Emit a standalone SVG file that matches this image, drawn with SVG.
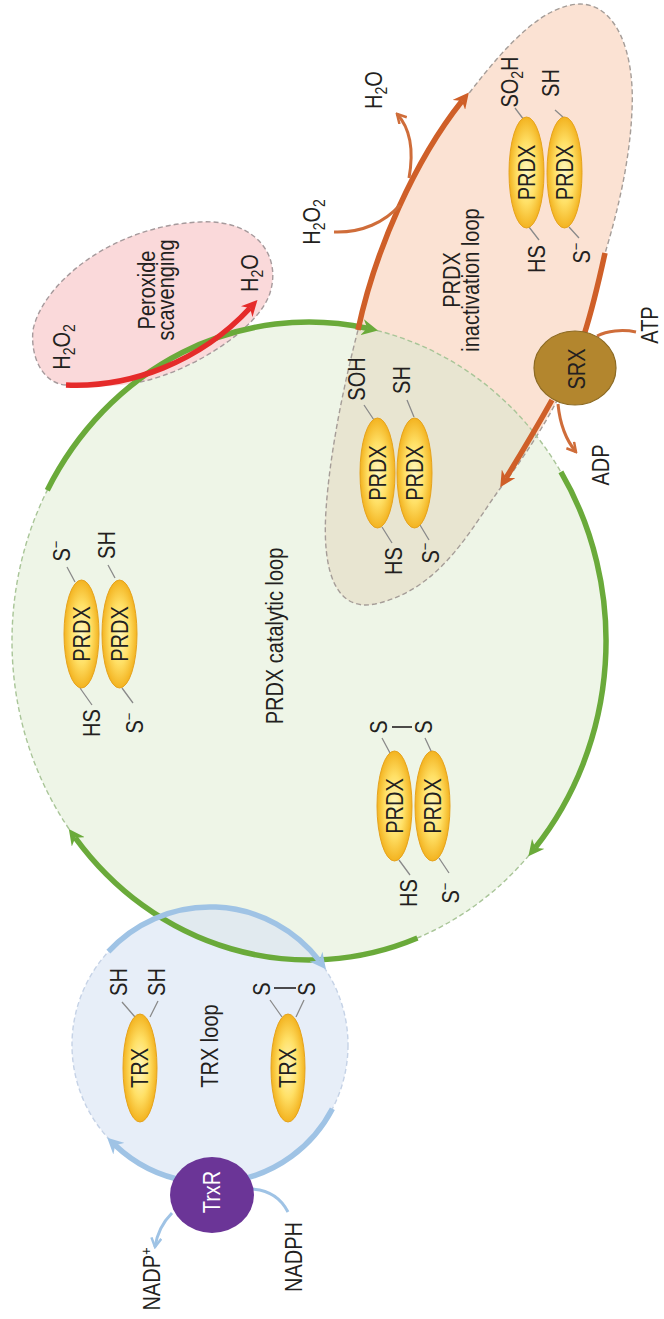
<svg xmlns="http://www.w3.org/2000/svg" width="664" height="1319" viewBox="0 0 664 1319">
<style>
.t{font-family:"Liberation Sans",Arial,sans-serif;font-size:20px;fill:#231f20;text-anchor:middle}
.w{fill:#ffffff}
.sub{font-size:14px}
.sup{font-size:13px}
.stem{stroke:#8a8a8a;stroke-width:1.3;fill:none}
.mol{fill:url(#yel);stroke:#e5a31e;stroke-width:1}
.dash{fill:none;stroke-dasharray:5 3;stroke-width:1.4}
.thick{fill:none;stroke-width:5.5}
.thin{fill:none;stroke-width:3}
</style>
<defs>
<radialGradient id="yel" cx="50%" cy="50%" r="50%">
<stop offset="0" stop-color="#fff8c0"/>
<stop offset="0.55" stop-color="#ffe066"/>
<stop offset="1" stop-color="#f3b320"/>
</radialGradient>
<clipPath id="catClip"><ellipse cx="309" cy="641" rx="297" ry="319"/></clipPath>
<marker id="ahG" markerUnits="userSpaceOnUse" markerWidth="16" markerHeight="16" viewBox="0 0 16 16" refX="5" refY="8" orient="auto"><path d="M0,0 L16,8 L0,16 L5,8 Z" fill="#6aaa3a"/></marker>
<marker id="ahB" markerUnits="userSpaceOnUse" markerWidth="16" markerHeight="16" viewBox="0 0 16 16" refX="5" refY="8" orient="auto"><path d="M0,0 L16,8 L0,16 L5,8 Z" fill="#9fc3e5"/></marker>
<marker id="ahR" markerUnits="userSpaceOnUse" markerWidth="16" markerHeight="16" viewBox="0 0 16 16" refX="5" refY="8" orient="auto"><path d="M0,0 L16,8 L0,16 L5,8 Z" fill="#e52b2a"/></marker>
<marker id="ahO" markerUnits="userSpaceOnUse" markerWidth="16" markerHeight="16" viewBox="0 0 16 16" refX="5" refY="8" orient="auto"><path d="M0,0 L16,8 L0,16 L5,8 Z" fill="#cf5f28"/></marker>
<marker id="chO" markerUnits="userSpaceOnUse" markerWidth="12" markerHeight="12" viewBox="0 0 12 12" refX="10" refY="6" orient="auto"><path d="M1,1 L10,6 L1,11" fill="none" stroke="#cf6d3a" stroke-width="2.5"/></marker>
<marker id="chB" markerUnits="userSpaceOnUse" markerWidth="12" markerHeight="12" viewBox="0 0 12 12" refX="10" refY="6" orient="auto"><path d="M1,1 L10,6 L1,11" fill="none" stroke="#9fc3e5" stroke-width="2.5"/></marker>
</defs>
<rect width="664" height="1319" fill="#ffffff"/>

<!-- regions -->
<g id="catalytic-loop">
<ellipse cx="309" cy="641" rx="297" ry="319" fill="#eef5e7"/>
</g>
<g id="trx-loop">
<circle cx="210" cy="1045" r="138" fill="#d9e4f4" fill-opacity="0.62"/>
<circle cx="210" cy="1045" r="138" class="dash" stroke="#c5d2e6"/>
</g>
<g id="peroxide-scavenging">
<path d="M66,385 C45,384 30,360 33,330 C42,285 110,226 200,222 C255,219 282,255 270,293 C258,330 190,372 140,382 C110,388 85,387 66,385 Z" fill="#fad9da"/>
<path d="M66,385 C45,384 30,360 33,330 C42,285 110,226 200,222 C255,219 282,255 270,293 C258,330 190,372 140,382" class="dash" stroke="#a69a9c"/>
</g>
<g id="inactivation-loop">
<path d="M358,330 C375,250 415,160 470,92 C510,40 545,5 580,4 C615,4 635,50 632,110 C630,160 618,210 606,250 C596,290 588,320 578,350 C565,395 530,450 499,490 C470,530 440,590 375,604 C335,612 322,570 326,510 C330,450 345,380 358,330 Z" fill="#fbe2d3"/>
<path d="M358,330 C375,250 415,160 470,92 C510,40 545,5 580,4 C615,4 635,50 632,110 C630,160 618,210 606,250 C596,290 588,320 578,350 C565,395 530,450 499,490 C470,530 440,590 375,604 C335,612 322,570 326,510 C330,450 345,380 358,330 Z" fill="#e8e5d1" clip-path="url(#catClip)"/>
<path d="M358,330 C375,250 415,160 470,92 C510,40 545,5 580,4 C615,4 635,50 632,110 C630,160 618,210 606,250 C596,290 588,320 578,350 C565,395 530,450 499,490 C470,530 440,590 375,604 C335,612 322,570 326,510 C330,450 345,380 358,330 Z" class="dash" stroke="#a59d98"/>
</g>
<ellipse cx="309" cy="641" rx="297" ry="319" class="dash" stroke="#a9c598"/>

<!-- region labels -->
<text class="t" transform="translate(155,290) rotate(-90) scale(1,1.15)">Peroxide</text>
<text class="t" transform="translate(174,290) rotate(-90) scale(1,1.15)">scavenging</text>
<text class="t" transform="translate(283,636) rotate(-90) scale(1,1.15)">PRDX catalytic loop</text>
<text class="t" transform="translate(460,280) rotate(-90) scale(1,1.15)">PRDX</text>
<text class="t" transform="translate(479,280) rotate(-90) scale(1,1.15)">inactivation loop</text>
<text class="t" transform="translate(218,1046) rotate(-90) scale(1,1.15)">TRX loop</text>

<!-- connectors -->
<g id="connectors">
<path class="thick" stroke="#6aaa3a" d="M47.3,490.2 A297,319 0 0 1 367.2,328.2" marker-end="url(#ahG)"/>
<path class="thick" stroke="#6aaa3a" d="M560.9,471.9 A297,319 0 0 1 535.2,847.7" marker-end="url(#ahG)"/>
<path class="thick" stroke="#6aaa3a" d="M417.4,938 A297,319 0 0 1 75.3,837.8" marker-end="url(#ahG)"/>
<path class="thick" stroke="#9fc3e5" d="M108.4,951.6 A138,138 0 0 1 319.2,960.6" marker-end="url(#ahB)"/>
<path class="thick" stroke="#9fc3e5" d="M332.4,1108.7 A138,138 0 0 1 234,1180.9"/>
<path class="thick" stroke="#9fc3e5" d="M186,1180.9 A138,138 0 0 1 115.2,1145.3" marker-end="url(#ahB)"/>
<path class="thin" stroke="#9fc3e5" d="M288,1212 C281,1198 268,1190 252,1189"/>
<path class="thin" stroke="#9fc3e5" d="M172,1213 C163,1222 157,1234 155,1247" marker-end="url(#chB)"/>
<path class="thick" stroke="#e52b2a" d="M66,385 C130,388 200,362 250,308" marker-end="url(#ahR)"/>
<path class="thick" stroke="#cf5f28" d="M358,330 C375,250 415,160 462,101" marker-end="url(#ahO)"/>
<path class="thin" stroke="#cf6d3a" d="M334,232 C362,233 385,222 400,205"/>
<path class="thin" stroke="#cf6d3a" d="M409,178 C414,150 410,128 397,114" marker-end="url(#chO)"/>
<path class="thick" stroke="#cf5f28" d="M605,253 C598,285 592,310 584,335"/>
<path class="thick" stroke="#cf5f28" d="M552,400 C538,425 522,452 506,478" marker-end="url(#ahO)"/>
<path class="thin" stroke="#cf6d3a" d="M558,404 C560,425 566,440 576,452" marker-end="url(#chO)"/>
<path class="thin" stroke="#cf6d3a" d="M636,332 C622,329 607,331 597,336"/>
</g>

<!-- free labels -->
<text class="t" transform="translate(70,347) rotate(-90) scale(1,1.15)">H<tspan class="sub" dy="4">2</tspan><tspan dy="-4">O</tspan><tspan class="sub" dy="4">2</tspan></text>
<text class="t" transform="translate(258,273) rotate(-90) scale(1,1.15)">H<tspan class="sub" dy="4">2</tspan><tspan dy="-4">O</tspan></text>
<text class="t" transform="translate(320,222) rotate(-90) scale(1,1.15)">H<tspan class="sub" dy="4">2</tspan><tspan dy="-4">O</tspan><tspan class="sub" dy="4">2</tspan></text>
<text class="t" transform="translate(382,90) rotate(-90) scale(1,1.15)">H<tspan class="sub" dy="4">2</tspan><tspan dy="-4">O</tspan></text>
<text class="t" transform="translate(658,325) rotate(-90) scale(1,1.15)">ATP</text>
<text class="t" transform="translate(609,465) rotate(-90) scale(1,1.15)">ADP</text>
<text class="t" transform="translate(302,1257) rotate(-90) scale(1,1.15)">NADPH</text>
<text class="t" transform="translate(160,1279) rotate(-90) scale(1,1.15)">NADP<tspan class="sup" dy="-8">+</tspan></text>

<!-- nodes -->
<g id="srx">
<ellipse cx="575" cy="368" rx="41" ry="37" fill="#b3862e" stroke="#8c6a24" stroke-width="1.2"/>
<text class="t" transform="translate(585,369) rotate(-90) scale(1,1.15)">SRX</text>
</g>
<g id="trxr">
<ellipse cx="212" cy="1195" rx="42" ry="38" fill="#6b3597"/>
<text class="t w" transform="translate(220,1192) rotate(-90) scale(1,1.15)">TrxR</text>
</g>

<g id="prdx-dimer-1">
<path class="stem" d="M67,567 L75,582 M108,565 L115,578 M80,688 L92,705 M122,688 L133,703"/>
<ellipse class="mol" cx="81.5" cy="634" rx="17.5" ry="54"/>
<ellipse class="mol" cx="119.5" cy="634" rx="17.5" ry="54"/>
<text class="t" transform="translate(89.7,634) rotate(-90) scale(1,1.15)">PRDX</text>
<text class="t" transform="translate(127.7,634) rotate(-90) scale(1,1.15)">PRDX</text>
<text class="t" transform="translate(70,551) rotate(-90) scale(1,1.15)">S<tspan class="sup" dy="-8">−</tspan></text>
<text class="t" transform="translate(115,545) rotate(-90) scale(1,1.15)">SH</text>
<text class="t" transform="translate(100,723) rotate(-90) scale(1,1.15)">HS</text>
<text class="t" transform="translate(143,723) rotate(-90) scale(1,1.15)">S<tspan class="sup" dy="-8">−</tspan></text>
</g>

<g id="prdx-dimer-2">
<path class="stem" d="M364,405 L374,420 M407,400 L414,417 M382,527 L392,543 M420,525 L429,540"/>
<ellipse class="mol" cx="377.5" cy="473" rx="17.5" ry="55"/>
<ellipse class="mol" cx="414.5" cy="473" rx="17.5" ry="55"/>
<text class="t" transform="translate(385.7,473) rotate(-90) scale(1,1.15)">PRDX</text>
<text class="t" transform="translate(422.7,473) rotate(-90) scale(1,1.15)">PRDX</text>
<text class="t" transform="translate(365,379) rotate(-90) scale(1,1.15)">SOH</text>
<text class="t" transform="translate(410,380) rotate(-90) scale(1,1.15)">SH</text>
<text class="t" transform="translate(402,561) rotate(-90) scale(1,1.15)">HS</text>
<text class="t" transform="translate(439,553) rotate(-90) scale(1,1.15)">S<tspan class="sup" dy="-8">−</tspan></text>
</g>

<g id="prdx-dimer-3">
<path class="stem" d="M382,738 L390,753 M425,738 L432,753 M399,860 L410,875 M439,858 L449,873"/>
<path d="M392,727 L412,727" stroke="#231f20" stroke-width="1.6"/>
<ellipse class="mol" cx="394.5" cy="806" rx="17.5" ry="55"/>
<ellipse class="mol" cx="432.5" cy="806" rx="17.5" ry="55"/>
<text class="t" transform="translate(402.7,806) rotate(-90) scale(1,1.15)">PRDX</text>
<text class="t" transform="translate(440.7,806) rotate(-90) scale(1,1.15)">PRDX</text>
<text class="t" transform="translate(387,727) rotate(-90) scale(1,1.15)">S</text>
<text class="t" transform="translate(432,727) rotate(-90) scale(1,1.15)">S</text>
<text class="t" transform="translate(417,893) rotate(-90) scale(1,1.15)">HS</text>
<text class="t" transform="translate(459,893) rotate(-90) scale(1,1.15)">S<tspan class="sup" dy="-8">−</tspan></text>
</g>

<g id="prdx-dimer-4">
<path class="stem" d="M515,108 L524,120 M555,110 L564,118 M529,227 L539,240 M569,227 L579,238"/>
<ellipse class="mol" cx="526.5" cy="172.5" rx="17.5" ry="55.5"/>
<ellipse class="mol" cx="564.5" cy="172.5" rx="17.5" ry="55.5"/>
<text class="t" transform="translate(534.7,172.5) rotate(-90) scale(1,1.15)">PRDX</text>
<text class="t" transform="translate(572.7,172.5) rotate(-90) scale(1,1.15)">PRDX</text>
<text class="t" transform="translate(518,82) rotate(-90) scale(1,1.15)">SO<tspan class="sub" dy="4">2</tspan><tspan dy="-4">H</tspan></text>
<text class="t" transform="translate(559,83) rotate(-90) scale(1,1.15)">SH</text>
<text class="t" transform="translate(545,259) rotate(-90) scale(1,1.15)">HS</text>
<text class="t" transform="translate(590,253) rotate(-90) scale(1,1.15)">S<tspan class="sup" dy="-8">−</tspan></text>
</g>

<g id="trx-1">
<path class="stem" d="M122,1002 L135,1017 M158,1001 L150,1017"/>
<ellipse class="mol" cx="140" cy="1068" rx="17" ry="54"/>
<text class="t" transform="translate(148,1068) rotate(-90) scale(1,1.15)">TRX</text>
<text class="t" transform="translate(127,982) rotate(-90) scale(1,1.15)">SH</text>
<text class="t" transform="translate(165,982) rotate(-90) scale(1,1.15)">SH</text>
</g>

<g id="trx-2">
<path class="stem" d="M270,1000 L282,1017 M304,1000 L296,1017"/>
<path d="M274,988 L296,988" stroke="#231f20" stroke-width="1.6"/>
<ellipse class="mol" cx="288" cy="1068" rx="17" ry="54"/>
<text class="t" transform="translate(296,1068) rotate(-90) scale(1,1.15)">TRX</text>
<text class="t" transform="translate(270,989) rotate(-90) scale(1,1.15)">S</text>
<text class="t" transform="translate(315,989) rotate(-90) scale(1,1.15)">S</text>
</g>
</svg>
